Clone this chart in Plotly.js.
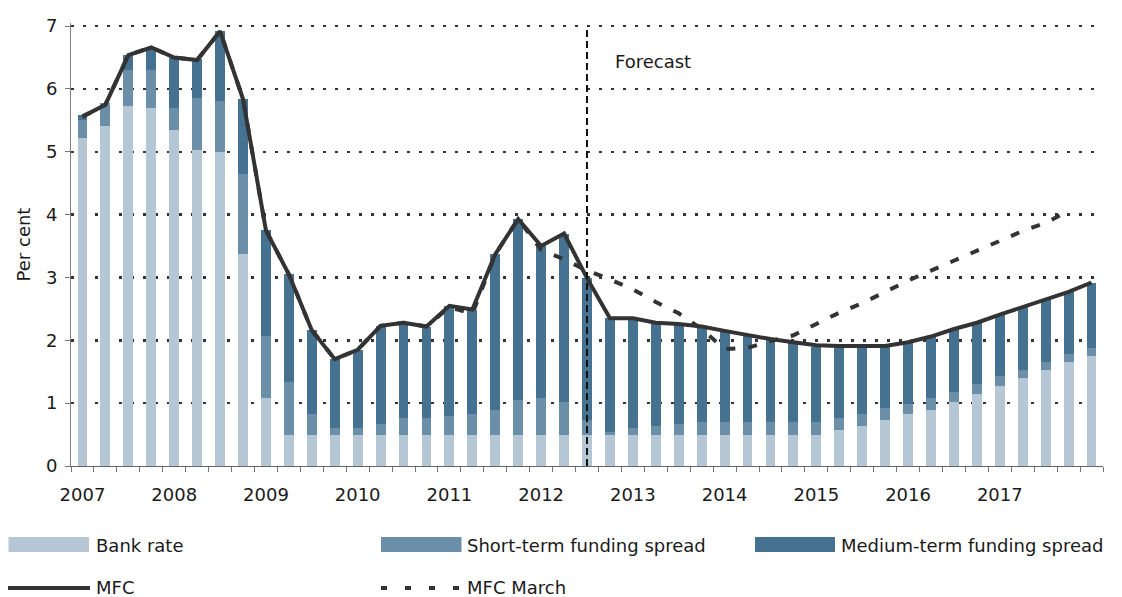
<!DOCTYPE html>
<html>
<head>
<meta charset="utf-8">
<script src="https://cdn.plot.ly/plotly-3.0.1.min.js"></script>
<style>
html,body{margin:0;padding:0;background:#fff;}
#chart{width:1122px;height:597px;}
</style>
</head>
<body>
<div id="chart"></div>
<script>
// ---------- data ----------
const quarters = [
  '2007 Q1','2007 Q2','2007 Q3','2007 Q4',
  '2008 Q1','2008 Q2','2008 Q3','2008 Q4',
  '2009 Q1','2009 Q2','2009 Q3','2009 Q4',
  '2010 Q1','2010 Q2','2010 Q3','2010 Q4',
  '2011 Q1','2011 Q2','2011 Q3','2011 Q4',
  '2012 Q1','2012 Q2','2012 Q3','2012 Q4',
  '2013 Q1','2013 Q2','2013 Q3','2013 Q4',
  '2014 Q1','2014 Q2','2014 Q3','2014 Q4',
  '2015 Q1','2015 Q2','2015 Q3','2015 Q4',
  '2016 Q1','2016 Q2','2016 Q3','2016 Q4',
  '2017 Q1','2017 Q2','2017 Q3','2017 Q4',
  '2018 Q1'
];
const yearLabels = ['2007','2008','2009','2010','2011','2012','2013','2014','2015','2016','2017'];

const bankRate = [
  5.22,5.41,5.73,5.70,5.35,5.03,5.00,3.37,1.08,0.50,0.50,0.50,
  0.50,0.50,0.50,0.50,0.50,0.50,0.50,0.50,0.50,0.50,0.50,0.50,
  0.50,0.50,0.50,0.50,0.50,0.50,0.50,0.50,0.50,0.57,0.64,0.73,
  0.83,0.89,1.02,1.15,1.27,1.40,1.53,1.65,1.75
];
const shortSpread = [
  0.28,0.36,0.57,0.60,0.35,0.82,0.81,1.28,0.99,0.84,0.33,0.10,
  0.10,0.17,0.26,0.26,0.30,0.33,0.39,0.55,0.58,0.52,0.23,0.04,
  0.10,0.14,0.17,0.20,0.20,0.20,0.20,0.20,0.20,0.19,0.19,0.19,
  0.16,0.19,0.16,0.15,0.16,0.13,0.12,0.13,0.13
];
const mediumSpread = [
  0.08,0.00,0.24,0.37,0.80,0.63,1.11,1.19,1.68,1.71,1.33,1.10,
  1.25,1.56,1.51,1.46,1.75,1.66,2.48,2.88,2.42,2.68,2.26,1.81,
  1.75,1.64,1.59,1.52,1.45,1.38,1.32,1.27,1.20,1.14,1.07,0.98,
  0.98,0.98,1.00,0.98,0.98,1.00,1.01,0.99,1.04
];
const mfc = [
  5.56,5.75,6.54,6.66,6.50,6.46,6.92,5.84,3.75,3.05,2.16,1.70,
  1.85,2.23,2.28,2.22,2.55,2.49,3.37,3.93,3.50,3.70,2.99,2.35,
  2.35,2.28,2.26,2.22,2.15,2.08,2.02,1.97,1.92,1.91,1.91,1.91,
  1.97,2.06,2.18,2.28,2.41,2.53,2.66,2.77,2.92
];
const mfcMarch = [
  5.56,5.75,6.54,6.66,6.50,6.46,6.92,5.84,3.75,3.05,2.16,1.70,
  1.85,2.23,2.28,2.22,2.53,2.42,3.37,3.93,3.44,3.29,3.11,2.97,
  2.81,2.61,2.43,2.18,1.86,1.88,1.99,2.08,2.26,2.44,2.59,2.77,
  2.95,3.11,3.27,3.43,3.58,3.74,3.87,4.06,null
];
const forecastStart = '2012 Q3';
const yTicks = [0,1,2,3,4,5,6,7];

// ---------- styling ----------
const C_BANK = '#b5c7d5';
const C_SHORT = '#6b8fa8';
const C_MED = '#467292';
const C_LINE = '#333333';
const FONT = 'DejaVu Sans, sans-serif';
const TXT = '#1a1a1a';

const xIdx = quarters.map((q, i) => i);
const tickIdx = yearLabels.map(y => quarters.indexOf(y + ' Q1'));
const fIdx = quarters.indexOf(forecastStart);

const M = {l: 71, r: 19, t: 23, b: 131};
const W = 1122, H = 597;
const pw = W - M.l - M.r, ph = H - M.t - M.b;
const px = x => (x - M.l) / pw;
const py = y => (H - M.b - y) / ph;

const bar = (name, vals, color) => ({
  type: 'bar', name, x: xIdx, y: vals, customdata: quarters, textposition: 'none',
  marker: {color, line: {width: 0}},
  hovertemplate: '%{customdata}: %{y}<extra>' + name + '</extra>'
});
const line = (name, vals, dash) => ({
  type: 'scatter', mode: 'lines', name, x: xIdx, y: vals, customdata: quarters,
  connectgaps: false,
  line: {color: C_LINE, width: 4, dash: dash || 'solid'},
  hovertemplate: '%{customdata}: %{y}<extra>' + name + '</extra>'
});

const traces = [
  bar('Bank rate', bankRate, C_BANK),
  bar('Short-term funding spread', shortSpread, C_SHORT),
  bar('Medium-term funding spread', mediumSpread, C_MED),
  line('MFC March', mfcMarch, '9px,13px'),
  line('MFC', mfc)
];

const shapes = [
  {type: 'line', xref: 'x', yref: 'y', x0: fIdx, x1: fIdx, y0: 0, y1: 7, line: {color: '#111', width: 2, dash: '7px,4px'}},
  // legend swatches
  {type: 'rect', xref: 'paper', yref: 'paper', x0: px(8.5), x1: px(89), y0: py(552), y1: py(537), fillcolor: C_BANK, line: {width: 0}},
  {type: 'rect', xref: 'paper', yref: 'paper', x0: px(381), x1: px(461.5), y0: py(552), y1: py(537), fillcolor: C_SHORT, line: {width: 0}},
  {type: 'rect', xref: 'paper', yref: 'paper', x0: px(755), x1: px(835), y0: py(552), y1: py(537), fillcolor: C_MED, line: {width: 0}},
  {type: 'line', xref: 'paper', yref: 'paper', x0: px(8), x1: px(90), y0: py(588), y1: py(588), line: {color: C_LINE, width: 4}},
  {type: 'line', xref: 'paper', yref: 'paper', x0: px(381), x1: px(462), y0: py(588), y1: py(588), line: {color: C_LINE, width: 4, dash: '6px,18px'}}
];

const legAnn = (text, x, y, h) => {
  const a = {
    text, xref: 'paper', yref: 'paper', x: px(x), y: py(y),
    xanchor: 'left', yanchor: 'middle', showarrow: false, borderpad: 0,
    font: {family: FONT, size: 18, color: TXT}
  };
  if (h) a.height = h;
  return a;
};

const annotations = [
  {text: 'Forecast', xref: 'x', yref: 'y', x: fIdx + 1.15, y: 6.43, xanchor: 'left', yanchor: 'middle', showarrow: false, font: {family: FONT, size: 18, color: TXT}},
  legAnn('Bank rate', 95, 545),
  legAnn('Short-term funding spread', 466, 545),
  legAnn('Medium-term funding spread', 840, 545),
  legAnn('MFC', 95, 587, 18),
  legAnn('MFC March', 466, 587, 18)
];

const layout = {
  width: W, height: H,
  margin: M,
  paper_bgcolor: '#fff', plot_bgcolor: '#fff',
  barmode: 'stack', bargap: 0.57,
  showlegend: false,
  font: {family: FONT, size: 18, color: TXT},
  xaxis: {
    range: [-0.5, 44.5], fixedrange: true,
    tickmode: 'array', tickvals: tickIdx, ticktext: yearLabels,
    ticks: '', showgrid: false, zeroline: false,
    showline: true, linecolor: '#666', linewidth: 1.3,
    ticklabelstandoff: 12,
    tickfont: {family: FONT, size: 18, color: TXT},
    minor: {tickmode: 'linear', tick0: -0.5, dtick: 1, ticks: 'outside', ticklen: 5, tickcolor: '#777', tickwidth: 1, showgrid: false}
  },
  yaxis: {
    range: [0, 7.05], fixedrange: true,
    tickmode: 'array', tickvals: yTicks,
    ticks: 'outside', ticklen: 5, tickcolor: '#777', tickwidth: 1,
    showline: true, linecolor: '#808080', linewidth: 1,
    showgrid: true, gridcolor: '#333', gridwidth: 2.5, griddash: '3px,9px',
    zeroline: false,
    ticklabelstandoff: 4,
    tickfont: {family: FONT, size: 18, color: TXT},
    title: {text: 'Per cent', standoff: 10, font: {family: FONT, size: 18, color: TXT}}
  },
  shapes, annotations
};

Plotly.newPlot('chart', traces, layout, {displayModeBar: false, staticPlot: true});
</script>
</body>
</html>
